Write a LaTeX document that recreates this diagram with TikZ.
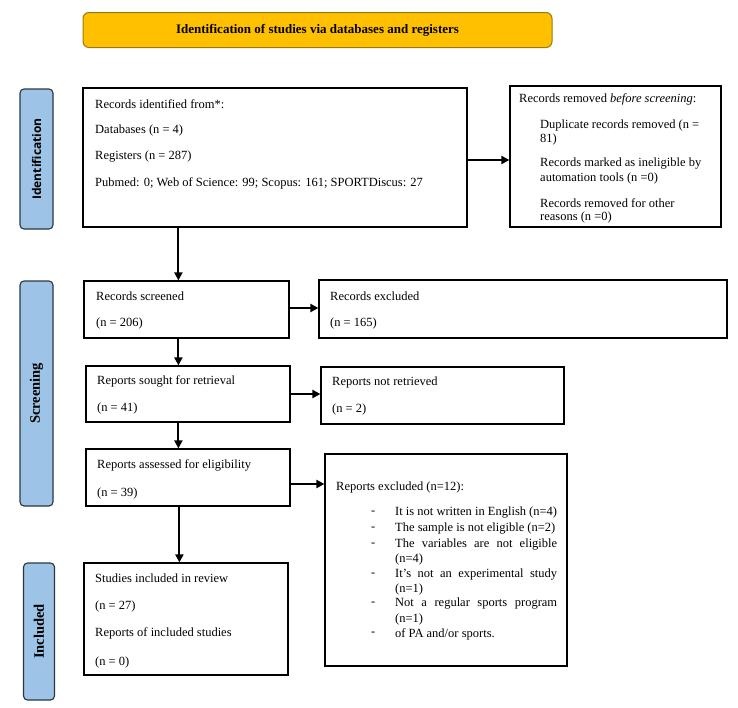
\documentclass[tikz,border=0pt]{standalone}
\usepackage{fontspec}
\setmainfont{Liberation Serif}
\newfontfamily\labsans{Open Sans}
\usetikzlibrary{arrows.meta}
\definecolor{titlefill}{HTML}{FFC000}
\definecolor{titledraw}{HTML}{9C7A10}
\definecolor{labfill}{HTML}{9DC3E6}
\definecolor{labdraw}{HTML}{2B3640}
\tikzset{
  box/.style={draw=black, line width=1.2pt, inner sep=0, fill=white},
  txt/.style={anchor=west, inner sep=0, font=\fontsize{12.5}{14}\selectfont},
  sidelab/.style={draw=labdraw, line width=1.1pt, fill=labfill, rounded corners=4pt, inner sep=0},
  labtxt/.style={inner sep=0, rotate=90, font=\bfseries\fontsize{14.5}{16}\selectfont},
  arr/.style={line width=2pt, -{Triangle[length=8pt,width=8pt]}},
}
\begin{document}
\begin{tikzpicture}[x=1pt,y=-1pt]
\useasboundingbox (0,0) rectangle (738,707);
% title
\node[draw=titledraw, line width=1pt, fill=titlefill, rounded corners=6pt, minimum width=469pt, minimum height=35pt, inner sep=0,
  font=\bfseries\fontsize{13}{15}\selectfont] (title) at (317.5,30) {Identification of studies via databases and registers};
% side labels
\node[sidelab, minimum width=33pt, minimum height=140pt] (labid) at (36.5,159) {};
\node[labtxt, font=\labsans\bfseries\fontsize{12}{14}\selectfont] (labidt) at (labid.center) {Identification};
\node[sidelab, minimum width=33pt, minimum height=225pt] (labsc) at (36.5,393.5) {};
\node[labtxt] (labsct) at (labsc.center) {Screening};
\node[sidelab, minimum width=31pt, minimum height=137pt] (labin) at (39,631.5) {};
\node[labtxt] (labint) at (labin.center) {Included};
% boxes
\node[box, minimum width=384pt, minimum height=139pt] (ident) at (275,157.5) {};
\node[box, minimum width=211pt, minimum height=141pt] (removed) at (615.5,156.5) {};
\node[box, minimum width=205pt, minimum height=57pt] (screened) at (186.5,309.5) {};
\node[box, minimum width=408pt, minimum height=58pt] (excluded) at (523,309) {};
\node[box, minimum width=204pt, minimum height=56pt] (sought) at (188,394) {};
\node[box, minimum width=243pt, minimum height=57pt] (notret) at (442.5,395.5) {};
\node[box, minimum width=204pt, minimum height=57pt] (assessed) at (188,477.5) {};
\node[box, minimum width=242pt, minimum height=212pt] (repexcl) at (446,560) {};
\node[box, minimum width=204pt, minimum height=112pt] (included) at (186,619) {};
% texts: identification
\node[txt] (t1) at (95,104) {Records identified from*:};
\node[txt] (t2) at (95,130) {Databases (n = 4)};
\node[txt] (t3) at (95,157) {Registers (n = 287)};
\node[txt] (t4) at (95,183) {Pubmed: 0; Web of Science: 99; Scopus: 161; SPORTDiscus: 27};
\node[txt] (r1) at (519,99) {Records removed \textit{before screening}:};
\node[txt] (r2) at (540,125) {Duplicate records removed (n =};
\node[txt] (r3) at (540,139) {81)};
\node[txt] (r4) at (540,164) {Records marked as ineligible by};
\node[txt] (r5) at (540,178) {automation tools (n =0)};
\node[txt] (r6) at (540,203) {Records removed for other};
\node[txt] (r7) at (540,217) {reasons (n =0)};
% screening texts
\node[txt] (s1) at (96,296) {Records screened};
\node[txt] (s2) at (96,323) {(n = 206)};
\node[txt] (e1) at (330,296) {Records excluded};
\node[txt] (e2) at (330,323) {(n = 165)};
\node[txt] (so1) at (97,381) {Reports sought for retrieval};
\node[txt] (so2) at (97,408) {(n = 41)};
\node[txt] (n1) at (332,382) {Reports not retrieved};
\node[txt] (n2) at (332,409) {(n = 2)};
\node[txt] (a1) at (97,465) {Reports assessed for eligibility};
\node[txt] (a2) at (97,493) {(n = 39)};
% reports excluded list
\node[txt] (x0) at (336,487) {Reports excluded (n=12):};
\foreach \yy/\nm in {513/d1,529/d2,545/d3,575/d4,604/d5,634/d6}
  \node[txt] (\nm) at (371,\yy) {-};
\node[txt] (x1) at (395,513) {It is not written in English (n=4)};
\node[txt] (x2) at (395,529) {The sample is not eligible (n=2)};
\node[txt] (x3) at (395,545) {\makebox[162pt][s]{The variables are not eligible}};
\node[txt] (x4) at (395,559) {(n=4)};
\node[txt] (x5) at (395,575) {\makebox[162pt][s]{It's not an experimental study}};
\node[txt] (x6) at (395,589) {(n=1)};
\node[txt] (x7) at (395,604) {\makebox[162pt][s]{Not a regular sports program}};
\node[txt] (x8) at (395,619) {(n=1)};
\node[txt] (x9) at (395,634) {of PA and/or sports.};
% included texts
\node[txt] (i1) at (95,578) {Studies included in review};
\node[txt] (i2) at (95,606) {(n = 27)};
\node[txt] (i3) at (95,633) {Reports of included studies};
\node[txt] (i4) at (95,662) {(n = 0)};
% arrows
\draw[arr] ([yshift=-2.5pt]ident.east) -- ([yshift=-2.5pt]ident.east -| removed.west);
\draw[arr] ([xshift=96pt]ident.south west) -- ([xshift=95pt]screened.north west);
\draw[arr] ([yshift=1.5pt]screened.east) -- ([yshift=1.5pt]screened.east -| excluded.west);
\draw[arr] ([xshift=95pt]screened.south west) -- ([xshift=93pt]sought.north west);
\draw[arr] (sought.east) -- (sought.east -| notret.west);
\draw[arr] ([xshift=93pt]sought.south west) -- ([xshift=93pt]assessed.north west);
\draw[arr] ([yshift=-6.5pt]assessed.east) -- ([yshift=-6.5pt]assessed.east -| repexcl.west);
\draw[arr] ([xshift=94pt]assessed.south west) -- ([xshift=96pt]included.north west);
\end{tikzpicture}
\end{document}
